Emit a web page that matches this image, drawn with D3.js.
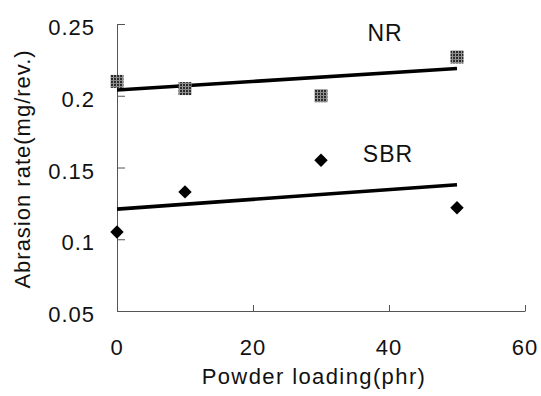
<!DOCTYPE html>
<html><head><meta charset="utf-8">
<script src="https://cdn.jsdelivr.net/npm/d3@7"></script>
<style>
html,body{margin:0;padding:0;background:#fff;}
text{font-family:"Liberation Sans",Arial,sans-serif;fill:#111;}
</style></head>
<body>
<svg id="chart" width="541" height="396"></svg>
<script>
const xTicks = [0, 20, 40, 60];
const yTicks = [0.05, 0.1, 0.15, 0.2, 0.25];
const yTickLabels = ["0.05", "0.1", "0.15", "0.2", "0.25"];
const loading = [0, 10, 30, 50];
const nrValues = [0.210, 0.205, 0.200, 0.227];
const sbrValues = [0.105, 0.133, 0.155, 0.122];
const trendX = [0, 50];
const nrTrend = [0.204, 0.219];
const sbrTrend = [0.121, 0.138];
const seriesNames = ["NR", "SBR"];

const svg = d3.select("#chart");
const x = d3.scaleLinear().domain([0, 60]).range([117, 525]);
const y = d3.scaleLinear().domain([0.05, 0.25]).range([311, 24]);

const defs = svg.append("defs");
const pat = defs.append("pattern").attr("id","hatch").attr("patternUnits","userSpaceOnUse")
  .attr("width",3).attr("height",3);
pat.append("rect").attr("width",3).attr("height",3).attr("fill","#2a2a2a");
pat.append("rect").attr("x",2).attr("width",1).attr("height",3).attr("fill","#9a9a9a");
pat.append("rect").attr("y",2).attr("width",3).attr("height",1).attr("fill","#8a8a8a");

// axes
const xAxis = d3.axisBottom(x).tickValues(xTicks).tickSizeInner(-6).tickSizeOuter(0).tickFormat("");
const gx = svg.append("g").attr("transform","translate(0,311)").call(xAxis);
gx.selectAll("path,line").attr("stroke","#555").attr("stroke-width",1);
const yAxis = d3.axisLeft(y).tickValues(yTicks).tickSizeInner(-8).tickSizeOuter(0).tickFormat("");
const gy = svg.append("g").attr("transform","translate(117,0)").call(yAxis);
gy.selectAll("path,line").attr("stroke","#555").attr("stroke-width",1);

// tick labels
svg.append("g").selectAll("text").data(xTicks).join("text")
  .attr("x", d => x(d)).attr("y", 355).attr("text-anchor","middle")
  .attr("font-size", 22).attr("letter-spacing","1px").text(d => d);
svg.append("g").selectAll("text").data(yTicks).join("text")
  .attr("x", 95).attr("y", d => y(d) + 11).attr("text-anchor","end")
  .attr("font-size", 22).attr("letter-spacing","1px")
  .text((d,i) => yTickLabels[i]);

// axis titles
svg.append("text").attr("x", 314).attr("y", 384).attr("text-anchor","middle")
  .attr("font-size", 22).attr("letter-spacing","1.4px").text("Powder loading(phr)");
svg.append("text").attr("transform","translate(30,169) rotate(-90)").attr("text-anchor","middle")
  .attr("font-size", 22).attr("letter-spacing","1px").text("Abrasion rate(mg/rev.)");

// trend lines
const line = d3.line().x((d,i) => x(trendX[i])).y(d => y(d));
[nrTrend, sbrTrend].forEach(t => {
  svg.append("path").datum(t).attr("d", line).attr("fill","none")
    .attr("stroke","#000").attr("stroke-width",3.6);
});

// markers
svg.append("g").selectAll("rect").data(nrValues).join("rect")
  .attr("x", (d,i) => x(loading[i]) - 6.5).attr("y", d => y(d) - 6.5)
  .attr("width", 13).attr("height", 13).attr("fill","url(#hatch)");
const diamond = d3.symbol().type(d3.symbolDiamond2).size(130);
svg.append("g").selectAll("path").data(sbrValues).join("path")
  .attr("transform", (d,i) => `translate(${x(loading[i])},${y(d)}) rotate(0)`)
  .attr("d", d3.symbol().type(d3.symbolSquare).size(90)())
  .attr("transform", (d,i) => `translate(${x(loading[i])},${y(d)}) rotate(45)`)
  .attr("fill","#000");

// series labels
svg.append("text").attr("x", 385).attr("y", 41).attr("text-anchor","middle")
  .attr("font-size", 23).attr("letter-spacing","1px").text(seriesNames[0]);
svg.append("text").attr("x", 388).attr("y", 162).attr("text-anchor","middle")
  .attr("font-size", 23).attr("letter-spacing","1px").text(seriesNames[1]);
</script>
</body></html>
